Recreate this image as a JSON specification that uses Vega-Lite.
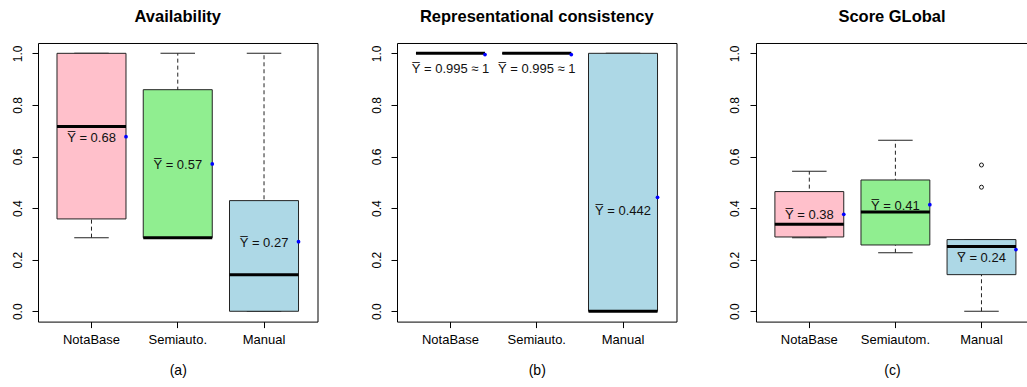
{
  "$schema": "https://vega.github.io/schema/vega-lite/v6.json",
  "padding": {"left": 10, "top": 9, "right": 0, "bottom": 0},
  "background": "white",
  "datasets": {
    "stats": [
      {"panel": "a", "cat": "NotaBase", "method": "NotaBase", "lo": 0.2855, "q1": 0.358, "med": 0.716, "q3": 1.0, "hi": 1.0, "mean": 0.677, "label": "Y̅ = 0.68", "label_y": 0.672},
      {"panel": "a", "cat": "Semiauto.", "method": "Semiautomatic", "lo": 0.2855, "q1": 0.2855, "med": 0.2855, "q3": 0.859, "hi": 1.0, "mean": 0.571, "label": "Y̅ = 0.57", "label_y": 0.567},
      {"panel": "a", "cat": "Manual", "method": "Manual", "lo": 0.0, "q1": 0.0, "med": 0.142, "q3": 0.429, "hi": 1.0, "mean": 0.27, "label": "Y̅ = 0.27", "label_y": 0.265},
      {"panel": "b", "cat": "NotaBase", "method": "NotaBase", "lo": 1.0, "q1": 1.0, "med": 1.0, "q3": 1.0, "hi": 1.0, "mean": 0.995, "label": "Y̅ = 0.995 ≈ 1", "label_y": 0.94},
      {"panel": "b", "cat": "Semiauto.", "method": "Semiautomatic", "lo": 1.0, "q1": 1.0, "med": 1.0, "q3": 1.0, "hi": 1.0, "mean": 0.995, "label": "Y̅ = 0.995 ≈ 1", "label_y": 0.94},
      {"panel": "b", "cat": "Manual", "method": "Manual", "lo": 0.0, "q1": 0.0, "med": 0.0, "q3": 1.0, "hi": 1.0, "mean": 0.442, "label": "Y̅ = 0.442", "label_y": 0.388},
      {"panel": "c", "cat": "NotaBase", "method": "NotaBase", "lo": 0.2855, "q1": 0.288, "med": 0.337, "q3": 0.464, "hi": 0.543, "mean": 0.376, "label": "Y̅ = 0.38", "label_y": 0.374},
      {"panel": "c", "cat": "Semiautom.", "method": "Semiautomatic", "lo": 0.227, "q1": 0.257, "med": 0.385, "q3": 0.509, "hi": 0.663, "mean": 0.413, "label": "Y̅ = 0.41", "label_y": 0.408},
      {"panel": "c", "cat": "Manual", "method": "Manual", "lo": 0.0, "q1": 0.142, "med": 0.251, "q3": 0.278, "hi": 0.278, "mean": 0.239, "label": "Y̅ = 0.24", "label_y": 0.205}
    ],
    "outliers": [
      {"panel": "c", "cat": "Manual", "value": 0.567},
      {"panel": "c", "cat": "Manual", "value": 0.481}
    ]
  },
  "hconcat": [
    {
      "width": 279.5,
      "height": 278.6,
      "title": "Availability",
      "data": {"name": "stats"},
      "transform": [{"filter": "datum.panel === 'a'"}],
      "encoding": {
        "x": {"field": "cat", "type": "nominal",
          "scale": {"domain": ["NotaBase", "Semiauto.", "Manual"], "paddingInner": 0.2, "paddingOuter": 0.22},
          "axis": {"title": "(a)"}}
      },
      "layer": [
        {"mark": {"type": "rule", "strokeDash": [4, 3], "color": "#222", "strokeWidth": 1},
         "encoding": {"y": {"field": "lo", "type": "quantitative", "scale": {"domain": [-0.04, 1.04], "nice": false, "zero": false}, "axis": {"title": null, "values": [0, 0.2, 0.4, 0.6, 0.8, 1], "format": ".1f"}}, "y2": {"field": "hi"}}},
        {"mark": {"type": "tick", "size": 34.5, "thickness": 1, "color": "#222", "opacity": 1}, "encoding": {"y": {"field": "lo", "type": "quantitative"}}},
        {"mark": {"type": "tick", "size": 34.5, "thickness": 1, "color": "#222", "opacity": 1}, "encoding": {"y": {"field": "hi", "type": "quantitative"}}},
        {"mark": {"type": "bar", "stroke": "#222", "strokeWidth": 1, "opacity": 1},
         "encoding": {"y": {"field": "q1", "type": "quantitative"}, "y2": {"field": "q3"},
           "color": {"field": "method", "type": "nominal", "legend": null, "scale": {"domain": ["NotaBase", "Semiautomatic", "Manual"], "range": ["#FFC0CB", "#90EE90", "#ADD8E6"]}}}},
        {"mark": {"type": "tick", "size": 69, "thickness": 3, "color": "black", "opacity": 1}, "encoding": {"y": {"field": "med", "type": "quantitative"}}},
        {"mark": {"type": "text", "fontSize": 13, "font": "Liberation Sans", "color": "#111", "align": "center", "baseline": "middle"},
         "encoding": {"y": {"field": "label_y", "type": "quantitative"}, "text": {"field": "label"}}},
        {"mark": {"type": "circle", "size": 14, "color": "blue", "opacity": 1},
         "encoding": {"x": {"field": "cat", "type": "nominal", "bandPosition": 1}, "y": {"field": "mean", "type": "quantitative"}}}
      ]
    },
    {
      "width": 279.5,
      "height": 278.6,
      "title": "Representational consistency",
      "data": {"name": "stats"},
      "transform": [{"filter": "datum.panel === 'b'"}],
      "encoding": {
        "x": {"field": "cat", "type": "nominal",
          "scale": {"domain": ["NotaBase", "Semiauto.", "Manual"], "paddingInner": 0.2, "paddingOuter": 0.22},
          "axis": {"title": "(b)"}}
      },
      "layer": [
        {"mark": {"type": "rule", "strokeDash": [4, 3], "color": "#222", "strokeWidth": 1},
         "encoding": {"y": {"field": "lo", "type": "quantitative", "scale": {"domain": [-0.04, 1.04], "nice": false, "zero": false}, "axis": {"title": null, "values": [0, 0.2, 0.4, 0.6, 0.8, 1], "format": ".1f"}}, "y2": {"field": "hi"}}},
        {"mark": {"type": "tick", "size": 34.5, "thickness": 1, "color": "#222", "opacity": 1}, "encoding": {"y": {"field": "lo", "type": "quantitative"}}},
        {"mark": {"type": "tick", "size": 34.5, "thickness": 1, "color": "#222", "opacity": 1}, "encoding": {"y": {"field": "hi", "type": "quantitative"}}},
        {"mark": {"type": "bar", "stroke": "#222", "strokeWidth": 1, "opacity": 1},
         "encoding": {"y": {"field": "q1", "type": "quantitative"}, "y2": {"field": "q3"},
           "color": {"field": "method", "type": "nominal", "legend": null, "scale": {"domain": ["NotaBase", "Semiautomatic", "Manual"], "range": ["#FFC0CB", "#90EE90", "#ADD8E6"]}}}},
        {"mark": {"type": "tick", "size": 69, "thickness": 3, "color": "black", "opacity": 1}, "encoding": {"y": {"field": "med", "type": "quantitative"}}},
        {"mark": {"type": "text", "fontSize": 13, "font": "Liberation Sans", "color": "#111", "align": "center", "baseline": "middle"},
         "encoding": {"y": {"field": "label_y", "type": "quantitative"}, "text": {"field": "label"}}},
        {"mark": {"type": "circle", "size": 14, "color": "blue", "opacity": 1},
         "encoding": {"x": {"field": "cat", "type": "nominal", "bandPosition": 1}, "y": {"field": "mean", "type": "quantitative"}}}
      ]
    },
    {
      "width": 272,
      "height": 278.6,
      "title": "Score GLobal",
      "encoding": {
        "x": {"field": "cat", "type": "nominal",
          "scale": {"domain": ["NotaBase", "Semiautom.", "Manual"], "paddingInner": 0.2, "paddingOuter": 0.18, "align": 0.61},
          "axis": {"title": "(c)"}}
      },
      "layer": [
        {"data": {"name": "stats"}, "transform": [{"filter": "datum.panel === 'c'"}],
         "mark": {"type": "rule", "strokeDash": [4, 3], "color": "#222", "strokeWidth": 1},
         "encoding": {"y": {"field": "lo", "type": "quantitative", "scale": {"domain": [-0.04, 1.04], "nice": false, "zero": false}, "axis": {"title": null, "values": [0, 0.2, 0.4, 0.6, 0.8, 1], "format": ".1f"}}, "y2": {"field": "hi"}}},
        {"data": {"name": "stats"}, "transform": [{"filter": "datum.panel === 'c'"}],
         "mark": {"type": "tick", "size": 34.5, "thickness": 1, "color": "#222", "opacity": 1}, "encoding": {"y": {"field": "lo", "type": "quantitative"}}},
        {"data": {"name": "stats"}, "transform": [{"filter": "datum.panel === 'c'"}],
         "mark": {"type": "tick", "size": 34.5, "thickness": 1, "color": "#222", "opacity": 1}, "encoding": {"y": {"field": "hi", "type": "quantitative"}}},
        {"data": {"name": "stats"}, "transform": [{"filter": "datum.panel === 'c'"}],
         "mark": {"type": "bar", "stroke": "#222", "strokeWidth": 1, "opacity": 1},
         "encoding": {"y": {"field": "q1", "type": "quantitative"}, "y2": {"field": "q3"},
           "color": {"field": "method", "type": "nominal", "legend": null, "scale": {"domain": ["NotaBase", "Semiautomatic", "Manual"], "range": ["#FFC0CB", "#90EE90", "#ADD8E6"]}}}},
        {"data": {"name": "stats"}, "transform": [{"filter": "datum.panel === 'c'"}],
         "mark": {"type": "tick", "size": 69, "thickness": 3, "color": "black", "opacity": 1}, "encoding": {"y": {"field": "med", "type": "quantitative"}}},
        {"data": {"name": "stats"}, "transform": [{"filter": "datum.panel === 'c'"}],
         "mark": {"type": "text", "fontSize": 13, "font": "Liberation Sans", "color": "#111", "align": "center", "baseline": "middle"},
         "encoding": {"y": {"field": "label_y", "type": "quantitative"}, "text": {"field": "label"}}},
        {"data": {"name": "stats"}, "transform": [{"filter": "datum.panel === 'c'"}],
         "mark": {"type": "circle", "size": 14, "color": "blue", "opacity": 1},
         "encoding": {"x": {"field": "cat", "type": "nominal", "bandPosition": 1}, "y": {"field": "mean", "type": "quantitative"}}},
        {"data": {"name": "outliers"},
         "mark": {"type": "point", "shape": "circle", "size": 16, "filled": false, "color": "black", "strokeWidth": 0.9, "opacity": 1},
         "encoding": {"y": {"field": "value", "type": "quantitative"}}}
      ]
    }
  ],
  "spacing": 79,
  "bounds": "flush",
  "config": {
    "view": {"stroke": "black", "strokeWidth": 1},
    "font": "Liberation Sans",
    "title": {"font": "Liberation Sans", "fontSize": 16.5, "fontWeight": "bold", "color": "black", "anchor": "middle", "offset": 17},
    "axis": {"grid": false, "domain": false, "ticks": true, "tickSize": 6, "tickColor": "black", "labelColor": "black", "labelFont": "Liberation Sans", "titleFont": "Liberation Sans", "titleColor": "black", "titleFontWeight": "normal"},
    "axisX": {"labelAngle": 0, "labelFontSize": 13, "labelPadding": 6, "titleFontSize": 14, "titlePadding": 17},
    "axisY": {"labelAngle": 270, "labelAlign": "center", "labelBaseline": "bottom", "labelFontSize": 12, "labelPadding": 8}
  }
}
